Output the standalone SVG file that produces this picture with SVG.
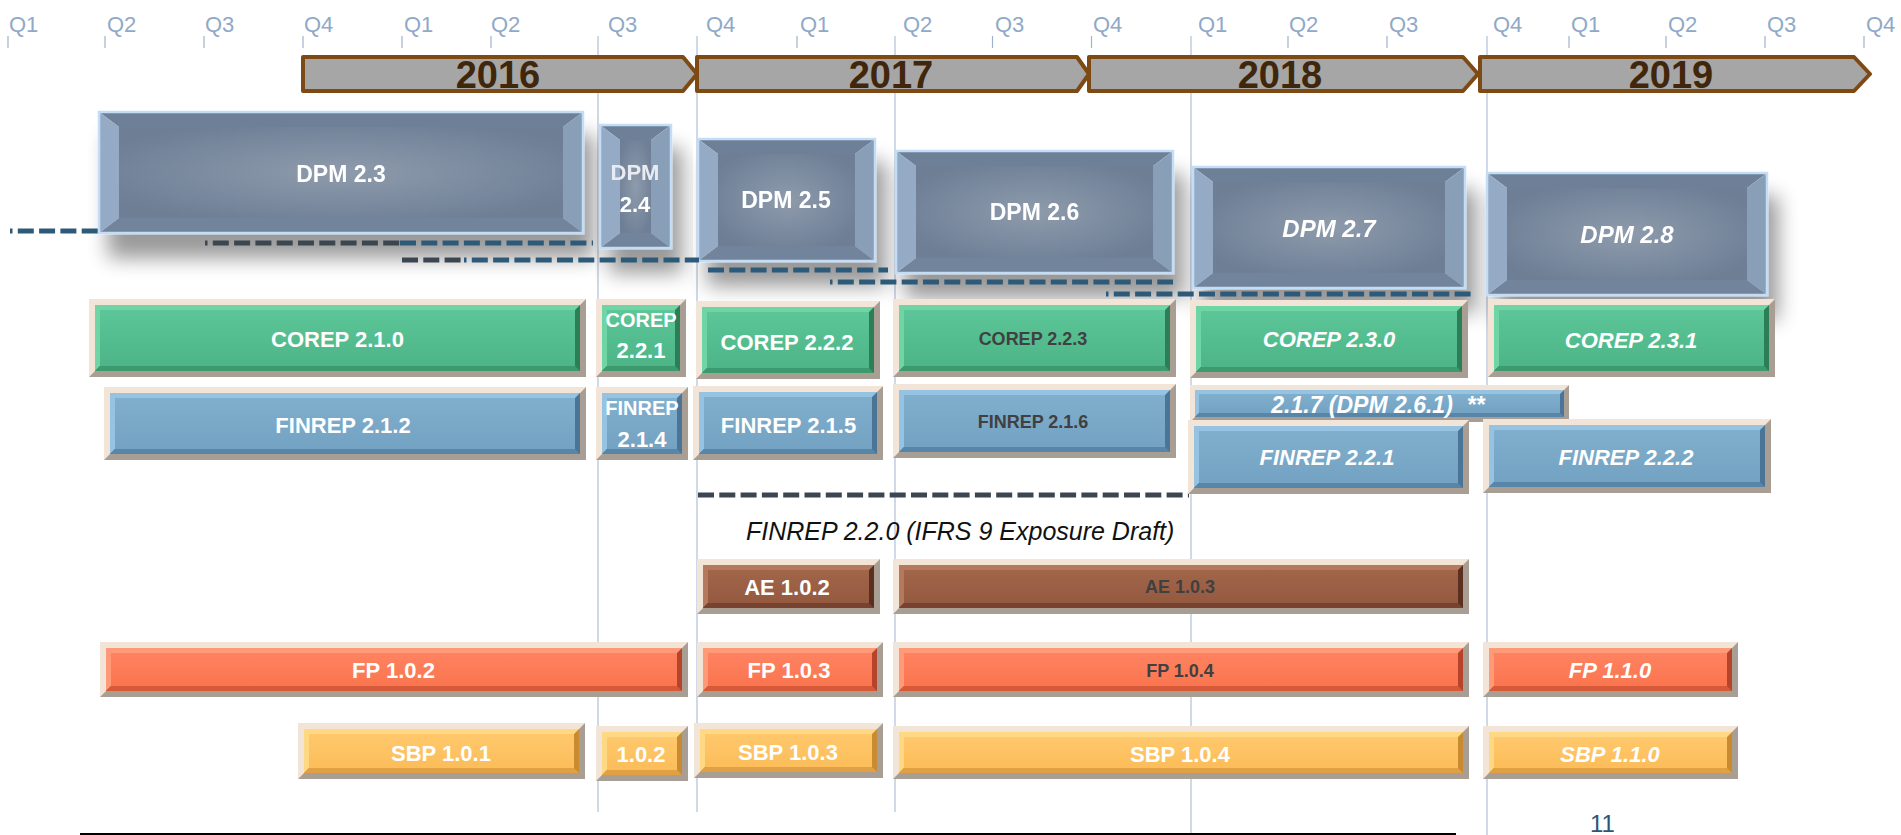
<svg xmlns="http://www.w3.org/2000/svg" width="1901" height="835" viewBox="0 0 1901 835">
<style>
.q{font-family:"Liberation Sans",Arial,sans-serif;font-size:22px;fill:#8FA9C8}
.yr{font-family:"Liberation Sans",Arial,sans-serif;font-weight:bold;font-size:38px;fill:#40260A;text-anchor:middle}
.arr{fill:#A6A6A6;stroke:#7E4A14;stroke-width:4;stroke-linejoin:round}
.tick{stroke:#9FB2CD;stroke-width:1.2}
.vl{stroke:#B7C5DA;stroke-width:1.3}
.lbl{font-family:"Liberation Sans",Arial,sans-serif;font-weight:bold;font-size:22px;fill:#FFFFFF;text-anchor:middle}
.dk{fill:#404040;font-size:18px}
.it{font-style:italic}
.fd{fill:#A99E94}.fl{fill:#F2E4D6}
.grn .r{fill:#2C7E56}.grn .t{fill:#6FD5A5}.grn .b{fill:#3D9A6E}.grn .f{fill:url(#gGrn)}
.blu .r{fill:#4A7596}.blu .t{fill:#97C3E2}.blu .b{fill:#5886A8}.blu .f{fill:url(#gBlu)}
.brn .r{fill:#5A2F1F}.brn .t{fill:#B57A5D}.brn .b{fill:#774330}.brn .f{fill:url(#gBrn)}
.org .r{fill:#B6442A}.org .t{fill:#FF9A78}.org .b{fill:#D65A38}.org .f{fill:url(#gOrg)}
.yel .r{fill:#C98A30}.yel .t{fill:#FFD884}.yel .b{fill:#E0A044}.yel .f{fill:url(#gYel)}
.dpm .tp{fill:#6E8098}.dpm .bt{fill:#72849B}.dpm .lf{fill:#95ABC5}.dpm .rt{fill:#899EB7}.dpm .fc{fill:url(#gDpm)}
.dpm .o{fill:none;stroke:#C3DDF6;stroke-width:2.5}
.dash{fill:none;stroke-width:5;stroke-dasharray:16 5.3}
.db{stroke:#2E5A7A}.dg{stroke:#3B4650}
.note{font-family:"Liberation Sans",Arial,sans-serif;font-style:italic;font-size:25px;fill:#111111}
.pg{font-family:"Liberation Sans",Arial,sans-serif;font-size:24px;fill:#2F5574}
</style>
<defs>
<linearGradient id="gGrn" x1="0" y1="0" x2="0" y2="1"><stop offset="0" stop-color="#5CC699"/><stop offset="1" stop-color="#4DB587"/></linearGradient>
<linearGradient id="gBlu" x1="0" y1="0" x2="0" y2="1"><stop offset="0" stop-color="#80AFCE"/><stop offset="1" stop-color="#73A2C2"/></linearGradient>
<linearGradient id="gBrn" x1="0" y1="0" x2="0" y2="1"><stop offset="0" stop-color="#A16549"/><stop offset="1" stop-color="#945A40"/></linearGradient>
<linearGradient id="gOrg" x1="0" y1="0" x2="0" y2="1"><stop offset="0" stop-color="#FF8260"/><stop offset="1" stop-color="#FA7550"/></linearGradient>
<linearGradient id="gYel" x1="0" y1="0" x2="0" y2="1"><stop offset="0" stop-color="#FFC86C"/><stop offset="1" stop-color="#FCBD5A"/></linearGradient>
<radialGradient id="gDpm" cx="0.5" cy="0.5" r="0.6"><stop offset="0" stop-color="#8E9BAC"/><stop offset="1" stop-color="#6D7E95"/></radialGradient>
<filter id="dsh" x="-20%" y="-20%" width="150%" height="180%">
<feGaussianBlur in="SourceAlpha" stdDeviation="10"/>
<feOffset dx="10" dy="24" result="o"/>
<feComponentTransfer><feFuncA type="linear" slope="0.4"/></feComponentTransfer>
<feMerge><feMergeNode/><feMergeNode in="SourceGraphic"/></feMerge>
</filter>
</defs>
<rect width="1901" height="835" fill="#FFFFFF"/>

<!-- quarter grid -->
<g id="grid">
<line class="vl" x1="598" y1="36" x2="598" y2="812"/>
<line class="vl" x1="697" y1="36" x2="697" y2="812"/>
<line class="vl" x1="895" y1="36" x2="895" y2="812"/>
<line class="vl" x1="1191" y1="36" x2="1191" y2="835"/>
<line class="vl" x1="1487" y1="36" x2="1487" y2="835"/>
<g class="tick">
<line x1="8" y1="36" x2="8" y2="48"/><line x1="105" y1="36" x2="105" y2="48"/>
<line x1="204" y1="36" x2="204" y2="48"/><line x1="303" y1="36" x2="303" y2="48"/>
<line x1="402" y1="36" x2="402" y2="48"/><line x1="491" y1="36" x2="491" y2="48"/>
<line x1="797" y1="36" x2="797" y2="48"/><line x1="992.5" y1="36" x2="992.5" y2="48"/>
<line x1="1091.5" y1="36" x2="1091.5" y2="48"/><line x1="1288" y1="36" x2="1288" y2="48"/>
<line x1="1387" y1="36" x2="1387" y2="48"/><line x1="1569" y1="36" x2="1569" y2="48"/>
<line x1="1666" y1="36" x2="1666" y2="48"/><line x1="1765" y1="36" x2="1765" y2="48"/>
<line x1="1864" y1="36" x2="1864" y2="48"/>
</g>
<g class="q">
<text x="9" y="32">Q1</text><text x="107" y="32">Q2</text><text x="205" y="32">Q3</text><text x="304" y="32">Q4</text>
<text x="404" y="32">Q1</text><text x="491" y="32">Q2</text><text x="608" y="32">Q3</text><text x="706" y="32">Q4</text>
<text x="800" y="32">Q1</text><text x="903" y="32">Q2</text><text x="995" y="32">Q3</text><text x="1093" y="32">Q4</text>
<text x="1198" y="32">Q1</text><text x="1289" y="32">Q2</text><text x="1389" y="32">Q3</text><text x="1493" y="32">Q4</text>
<text x="1571" y="32">Q1</text><text x="1668" y="32">Q2</text><text x="1767" y="32">Q3</text><text x="1866" y="32">Q4</text>
</g>
</g>

<!-- year arrows -->
<g id="year-2016"><path class="arr" d="M303,57H683L697,74L683,91H303Z"/><text class="yr" x="498" y="88">2016</text></g>
<g id="year-2017"><path class="arr" d="M697,57H1077L1089,74L1077,91H697Z"/><text class="yr" x="891" y="88">2017</text></g>
<g id="year-2018"><path class="arr" d="M1089,57H1463L1478,74L1463,91H1089Z"/><text class="yr" x="1280" y="88">2018</text></g>
<g id="year-2019"><path class="arr" d="M1480,57H1854L1870,74L1854,91H1480Z"/><text class="yr" x="1671" y="88">2019</text></g>

<!-- DPM releases -->
<g id="dpm-23" class="dpm" transform="translate(99,112)" filter="url(#dsh)">
<path class="tp" d="M0,0H484l-20,15H20z"/><path class="bt" d="M0,121H484l-20,-15H20z"/>
<path class="lf" d="M0,0l20,15V106l-20,15z"/><path class="rt" d="M484,0l-20,15V106l20,15z"/>
<rect class="fc" x="20" y="15" width="444" height="91"/><rect class="o" width="484" height="121"/>
<text class="lbl" x="242" y="70" style="font-size:23px">DPM 2.3</text>
</g>
<g id="dpm-24" class="dpm" transform="translate(600,125)" filter="url(#dsh)">
<path class="tp" d="M0,0H71l-20,15H20z"/><path class="bt" d="M0,123H71l-20,-15H20z"/>
<path class="lf" d="M0,0l20,15V108l-20,15z"/><path class="rt" d="M71,0l-20,15V108l20,15z"/>
<rect class="fc" x="20" y="15" width="31" height="93"/><rect class="o" width="71" height="123"/>
<text class="lbl" x="35" y="55" style="font-size:22px;fill:#E8ECF2">DPM</text>
<text class="lbl" x="35" y="87" style="font-size:22px">2.4</text>
</g>
<g id="dpm-25" class="dpm" transform="translate(698,139)" filter="url(#dsh)">
<path class="tp" d="M0,0H177l-20,15H20z"/><path class="bt" d="M0,122H177l-20,-15H20z"/>
<path class="lf" d="M0,0l20,15V107l-20,15z"/><path class="rt" d="M177,0l-20,15V107l20,15z"/>
<rect class="fc" x="20" y="15" width="137" height="92"/><rect class="o" width="177" height="122"/>
<text class="lbl" x="88" y="69" style="font-size:23px">DPM 2.5</text>
</g>
<g id="dpm-26" class="dpm" transform="translate(896,151)" filter="url(#dsh)">
<path class="tp" d="M0,0H277l-20,15H20z"/><path class="bt" d="M0,122H277l-20,-15H20z"/>
<path class="lf" d="M0,0l20,15V107l-20,15z"/><path class="rt" d="M277,0l-20,15V107l20,15z"/>
<rect class="fc" x="20" y="15" width="237" height="92"/><rect class="o" width="277" height="122"/>
<text class="lbl" x="138.5" y="69" style="font-size:23px">DPM 2.6</text>
</g>
<g id="dpm-27" class="dpm" transform="translate(1193,167)" filter="url(#dsh)">
<path class="tp" d="M0,0H272l-20,15H20z"/><path class="bt" d="M0,121H272l-20,-15H20z"/>
<path class="lf" d="M0,0l20,15V106l-20,15z"/><path class="rt" d="M272,0l-20,15V106l20,15z"/>
<rect class="fc" x="20" y="15" width="232" height="91"/><rect class="o" width="272" height="121"/>
<text class="lbl it" x="136" y="70" style="font-size:24px">DPM 2.7</text>
</g>
<g id="dpm-28" class="dpm" transform="translate(1487,173)" filter="url(#dsh)">
<path class="tp" d="M0,0H280l-20,15H20z"/><path class="bt" d="M0,122H280l-20,-15H20z"/>
<path class="lf" d="M0,0l20,15V107l-20,15z"/><path class="rt" d="M280,0l-20,15V107l20,15z"/>
<rect class="fc" x="20" y="15" width="240" height="92"/><rect class="o" width="280" height="122"/>
<text class="lbl it" x="140" y="70" style="font-size:24px">DPM 2.8</text>
</g>

<!-- dashed validity lines -->
<g id="connectors">
<line class="dash db" x1="10" y1="231" x2="99" y2="231" stroke-dashoffset="13.5"/>
<line class="dash dg" x1="205" y1="243" x2="400" y2="243" stroke-dashoffset="13.5"/>
<line class="dash db" x1="400" y1="243" x2="593" y2="243"/>
<line class="dash dg" x1="402" y1="260" x2="462" y2="260"/>
<line class="dash db" x1="464" y1="260" x2="699" y2="260" stroke-dashoffset="13.5"/>
<line class="dash db" x1="708" y1="270" x2="888" y2="270"/>
<line class="dash db" x1="830" y1="282" x2="1173" y2="282" stroke-dashoffset="13.5"/>
<line class="dash db" x1="1106" y1="294" x2="1474" y2="294" stroke-dashoffset="13.5"/>
<line class="dash dg" x1="698" y1="495" x2="1189" y2="495"/>
</g>

<!-- COREP -->
<g id="corep-210" class="grn" transform="translate(89,299)">
<rect class="fd" width="497" height="78"/><path class="fl" d="M0,0H497l-6,6H6V72l-6,6z"/>
<rect class="r" x="6" y="6" width="485" height="66"/><path class="t" d="M6,6H491l-5,5H11V67l-5,5z"/>
<path class="b" d="M6,72l5,-5H486l5,5z"/><rect class="f" x="11" y="11" width="475" height="56"/>
<text class="lbl" x="248.5" y="48">COREP 2.1.0</text>
</g>
<g id="corep-221" class="grn" transform="translate(596,299)">
<rect class="fd" width="90" height="78"/><path class="fl" d="M0,0H90l-6,6H6V72l-6,6z"/>
<rect class="r" x="6" y="6" width="78" height="66"/><path class="t" d="M6,6H84l-5,5H11V67l-5,5z"/>
<path class="b" d="M6,72l5,-5H79l5,5z"/><rect class="f" x="11" y="11" width="68" height="56"/>
<text class="lbl" x="45" y="28" style="font-size:20px">COREP</text>
<text class="lbl" x="45" y="59">2.2.1</text>
</g>
<g id="corep-222" class="grn" transform="translate(696,301)">
<rect class="fd" width="184" height="78"/><path class="fl" d="M0,0H184l-6,6H6V72l-6,6z"/>
<rect class="r" x="6" y="6" width="172" height="66"/><path class="t" d="M6,6H178l-5,5H11V67l-5,5z"/>
<path class="b" d="M6,72l5,-5H173l5,5z"/><rect class="f" x="11" y="11" width="162" height="56"/>
<text class="lbl" x="91" y="49">COREP 2.2.2</text>
</g>
<g id="corep-223" class="grn" transform="translate(893,299)">
<rect class="fd" width="283" height="78"/><path class="fl" d="M0,0H283l-6,6H6V72l-6,6z"/>
<rect class="r" x="6" y="6" width="271" height="66"/><path class="t" d="M6,6H277l-5,5H11V67l-5,5z"/>
<path class="b" d="M6,72l5,-5H272l5,5z"/><rect class="f" x="11" y="11" width="261" height="56"/>
<text class="lbl dk" x="140" y="46">COREP 2.2.3</text>
</g>
<g id="corep-230" class="grn" transform="translate(1190,300)">
<rect class="fd" width="278" height="78"/><path class="fl" d="M0,0H278l-6,6H6V72l-6,6z"/>
<rect class="r" x="6" y="6" width="266" height="66"/><path class="t" d="M6,6H272l-5,5H11V67l-5,5z"/>
<path class="b" d="M6,72l5,-5H267l5,5z"/><rect class="f" x="11" y="11" width="256" height="56"/>
<text class="lbl it" x="139" y="47">COREP 2.3.0</text>
</g>
<g id="corep-231" class="grn" transform="translate(1488,299)">
<rect class="fd" width="287" height="78"/><path class="fl" d="M0,0H287l-6,6H6V72l-6,6z"/>
<rect class="r" x="6" y="6" width="275" height="66"/><path class="t" d="M6,6H281l-5,5H11V67l-5,5z"/>
<path class="b" d="M6,72l5,-5H276l5,5z"/><rect class="f" x="11" y="11" width="265" height="56"/>
<text class="lbl it" x="143" y="49">COREP 2.3.1</text>
</g>

<!-- FINREP -->
<g id="finrep-212" class="blu" transform="translate(104,387)">
<rect class="fd" width="482" height="73"/><path class="fl" d="M0,0H482l-6,6H6V67l-6,6z"/>
<rect class="r" x="6" y="6" width="470" height="61"/><path class="t" d="M6,6H476l-5,5H11V62l-5,5z"/>
<path class="b" d="M6,67l5,-5H471l5,5z"/><rect class="f" x="11" y="11" width="460" height="51"/>
<text class="lbl" x="239" y="46">FINREP 2.1.2</text>
</g>
<g id="finrep-214" class="blu" transform="translate(596,387)">
<rect class="fd" width="92" height="73"/><path class="fl" d="M0,0H92l-6,6H6V67l-6,6z"/>
<rect class="r" x="6" y="6" width="80" height="61"/><path class="t" d="M6,6H86l-5,5H11V62l-5,5z"/>
<path class="b" d="M6,67l5,-5H81l5,5z"/><rect class="f" x="11" y="11" width="70" height="51"/>
<text class="lbl" x="46" y="28" style="font-size:20px">FINREP</text>
<text class="lbl" x="46" y="60">2.1.4</text>
</g>
<g id="finrep-215" class="blu" transform="translate(693,386)">
<rect class="fd" width="190" height="74"/><path class="fl" d="M0,0H190l-6,6H6V68l-6,6z"/>
<rect class="r" x="6" y="6" width="178" height="62"/><path class="t" d="M6,6H184l-5,5H11V63l-5,5z"/>
<path class="b" d="M6,68l5,-5H179l5,5z"/><rect class="f" x="11" y="11" width="168" height="52"/>
<text class="lbl" x="95.5" y="47">FINREP 2.1.5</text>
</g>
<g id="finrep-216" class="blu" transform="translate(893,384)">
<rect class="fd" width="283" height="74"/><path class="fl" d="M0,0H283l-6,6H6V68l-6,6z"/>
<rect class="r" x="6" y="6" width="271" height="62"/><path class="t" d="M6,6H277l-5,5H11V63l-5,5z"/>
<path class="b" d="M6,68l5,-5H272l5,5z"/><rect class="f" x="11" y="11" width="261" height="52"/>
<text class="lbl dk" x="140" y="44">FINREP 2.1.6</text>
</g>
<g id="finrep-217" class="blu" transform="translate(1190,385)">
<rect class="fd" width="379" height="37"/><path class="fl" d="M0,0H379l-5,5H5V32l-5,5z"/>
<rect class="r" x="5" y="5" width="369" height="27"/><path class="t" d="M5,5H374l-4,4H9V28l-4,4z"/>
<path class="b" d="M5,32l4,-4H370l4,4z"/><rect class="f" x="9" y="9" width="361" height="19"/>
<text class="lbl it" x="188" y="28" style="font-size:23px">2.1.7 (DPM 2.6.1)<tspan dx="14">**</tspan></text>
</g>
<g id="finrep-221" class="blu" transform="translate(1188,420)">
<rect class="fd" width="281" height="74"/><path class="fl" d="M0,0H281l-6,6H6V68l-6,6z"/>
<rect class="r" x="6" y="6" width="269" height="62"/><path class="t" d="M6,6H275l-5,5H11V63l-5,5z"/>
<path class="b" d="M6,68l5,-5H270l5,5z"/><rect class="f" x="11" y="11" width="259" height="52"/>
<text class="lbl it" x="139" y="45">FINREP 2.2.1</text>
</g>
<g id="finrep-222" class="blu" transform="translate(1483,419)">
<rect class="fd" width="288" height="74"/><path class="fl" d="M0,0H288l-6,6H6V68l-6,6z"/>
<rect class="r" x="6" y="6" width="276" height="62"/><path class="t" d="M6,6H282l-5,5H11V63l-5,5z"/>
<path class="b" d="M6,68l5,-5H277l5,5z"/><rect class="f" x="11" y="11" width="266" height="52"/>
<text class="lbl it" x="143" y="46">FINREP 2.2.2</text>
</g>

<g id="finrep-220-note"><text class="note" x="746" y="540">FINREP 2.2.0 (IFRS 9 Exposure Draft)</text></g>

<!-- AE -->
<g id="ae-102" class="brn" transform="translate(697,559)">
<rect class="fd" width="183" height="55"/><path class="fl" d="M0,0H183l-6,6H6V49l-6,6z"/>
<rect class="r" x="6" y="6" width="171" height="43"/><path class="t" d="M6,6H177l-5,5H11V44l-5,5z"/>
<path class="b" d="M6,49l5,-5H172l5,5z"/><rect class="f" x="11" y="11" width="161" height="33"/>
<text class="lbl" x="90" y="36">AE 1.0.2</text>
</g>
<g id="ae-103" class="brn" transform="translate(893,559)">
<rect class="fd" width="576" height="55"/><path class="fl" d="M0,0H576l-6,6H6V49l-6,6z"/>
<rect class="r" x="6" y="6" width="564" height="43"/><path class="t" d="M6,6H570l-5,5H11V44l-5,5z"/>
<path class="b" d="M6,49l5,-5H565l5,5z"/><rect class="f" x="11" y="11" width="554" height="33"/>
<text class="lbl dk" x="287" y="34">AE 1.0.3</text>
</g>

<!-- FP -->
<g id="fp-102" class="org" transform="translate(100,642)">
<rect class="fd" width="588" height="55"/><path class="fl" d="M0,0H588l-6,6H6V49l-6,6z"/>
<rect class="r" x="6" y="6" width="576" height="43"/><path class="t" d="M6,6H582l-5,5H11V44l-5,5z"/>
<path class="b" d="M6,49l5,-5H577l5,5z"/><rect class="f" x="11" y="11" width="566" height="33"/>
<text class="lbl" x="293.5" y="36">FP 1.0.2</text>
</g>
<g id="fp-103" class="org" transform="translate(697,642)">
<rect class="fd" width="186" height="55"/><path class="fl" d="M0,0H186l-6,6H6V49l-6,6z"/>
<rect class="r" x="6" y="6" width="174" height="43"/><path class="t" d="M6,6H180l-5,5H11V44l-5,5z"/>
<path class="b" d="M6,49l5,-5H175l5,5z"/><rect class="f" x="11" y="11" width="164" height="33"/>
<text class="lbl" x="92" y="36">FP 1.0.3</text>
</g>
<g id="fp-104" class="org" transform="translate(893,642)">
<rect class="fd" width="576" height="55"/><path class="fl" d="M0,0H576l-6,6H6V49l-6,6z"/>
<rect class="r" x="6" y="6" width="564" height="43"/><path class="t" d="M6,6H570l-5,5H11V44l-5,5z"/>
<path class="b" d="M6,49l5,-5H565l5,5z"/><rect class="f" x="11" y="11" width="554" height="33"/>
<text class="lbl dk" x="287" y="35">FP 1.0.4</text>
</g>
<g id="fp-110" class="org" transform="translate(1483,642)">
<rect class="fd" width="255" height="55"/><path class="fl" d="M0,0H255l-6,6H6V49l-6,6z"/>
<rect class="r" x="6" y="6" width="243" height="43"/><path class="t" d="M6,6H249l-5,5H11V44l-5,5z"/>
<path class="b" d="M6,49l5,-5H244l5,5z"/><rect class="f" x="11" y="11" width="233" height="33"/>
<text class="lbl it" x="127" y="36">FP 1.1.0</text>
</g>

<!-- SBP -->
<g id="sbp-101" class="yel" transform="translate(298,723)">
<rect class="fd" width="287" height="56"/><path class="fl" d="M0,0H287l-6,6H6V50l-6,6z"/>
<rect class="r" x="6" y="6" width="275" height="44"/><path class="t" d="M6,6H281l-5,5H11V45l-5,5z"/>
<path class="b" d="M6,50l5,-5H276l5,5z"/><rect class="f" x="11" y="11" width="265" height="34"/>
<text class="lbl" x="143" y="38">SBP 1.0.1</text>
</g>
<g id="sbp-102" class="yel" transform="translate(596,726)">
<rect class="fd" width="92" height="55"/><path class="fl" d="M0,0H92l-6,6H6V49l-6,6z"/>
<rect class="r" x="6" y="6" width="80" height="43"/><path class="t" d="M6,6H86l-5,5H11V44l-5,5z"/>
<path class="b" d="M6,49l5,-5H81l5,5z"/><rect class="f" x="11" y="11" width="70" height="33"/>
<text class="lbl" x="45" y="36">1.0.2</text>
</g>
<g id="sbp-103" class="yel" transform="translate(694,723)">
<rect class="fd" width="189" height="55"/><path class="fl" d="M0,0H189l-6,6H6V49l-6,6z"/>
<rect class="r" x="6" y="6" width="177" height="43"/><path class="t" d="M6,6H183l-5,5H11V44l-5,5z"/>
<path class="b" d="M6,49l5,-5H178l5,5z"/><rect class="f" x="11" y="11" width="167" height="33"/>
<text class="lbl" x="94" y="37">SBP 1.0.3</text>
</g>
<g id="sbp-104" class="yel" transform="translate(893,726)">
<rect class="fd" width="576" height="53"/><path class="fl" d="M0,0H576l-6,6H6V47l-6,6z"/>
<rect class="r" x="6" y="6" width="564" height="41"/><path class="t" d="M6,6H570l-5,5H11V42l-5,5z"/>
<path class="b" d="M6,47l5,-5H565l5,5z"/><rect class="f" x="11" y="11" width="554" height="31"/>
<text class="lbl" x="287" y="36">SBP 1.0.4</text>
</g>
<g id="sbp-110" class="yel" transform="translate(1483,726)">
<rect class="fd" width="255" height="53"/><path class="fl" d="M0,0H255l-6,6H6V47l-6,6z"/>
<rect class="r" x="6" y="6" width="243" height="41"/><path class="t" d="M6,6H249l-5,5H11V42l-5,5z"/>
<path class="b" d="M6,47l5,-5H244l5,5z"/><rect class="f" x="11" y="11" width="233" height="31"/>
<text class="lbl it" x="127" y="36">SBP 1.1.0</text>
</g>

<!-- footer -->
<g id="footer">
<line x1="80" y1="834" x2="1456" y2="834" stroke="#000000" stroke-width="2"/>
<text class="pg" x="1590" y="832">11</text>
</g>
</svg>
